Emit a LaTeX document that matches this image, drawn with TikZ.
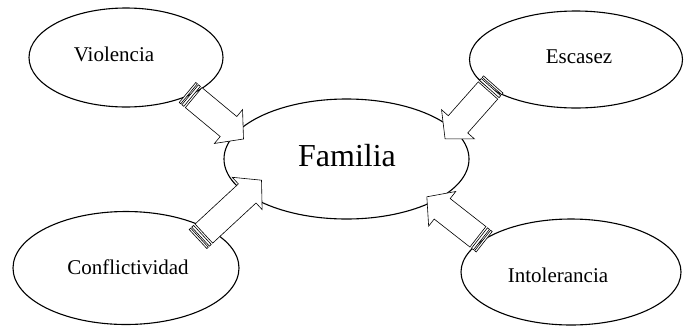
\documentclass[tikz,border=0pt]{standalone}
\usepackage{fontspec}
\setmainfont{Liberation Serif}
\usetikzlibrary{calc,shapes.geometric}
\tikzset{
  bubble/.style={ellipse, draw, line width=1.1pt, inner sep=0pt},
  lbl/.style={anchor=base, font=\fontsize{21}{25}\selectfont, inner sep=0pt},
  biglbl/.style={anchor=base, font=\fontsize{32}{37}\selectfont, inner sep=0pt},
  arrowline/.style={draw=black, fill=white, line width=0.6pt, line join=miter},
}
\newcommand\stripedarrow[2]{%
  \path let \p1=($(#2)-(#1)$), \n1={atan2(\y1,\x1)}, \n2={veclen(\x1,\y1)} in
    \pgfextra{\pgfmathsetmacro\sang{\n1}\global\let\sang\sang
              \pgfmathsetmacro\slen{\n2}\global\let\slen\slen};
  \begin{scope}[shift={(#1)}, rotate=\sang, x=1pt, y=1pt]
    \filldraw[arrowline] (0,-13) rectangle (2,13);
    \filldraw[arrowline] (3.5,-13) rectangle (6,13);
    \filldraw[arrowline] (8,-13) -- ({\slen-19.5},-13) -- ({\slen-19.5},-22)
      -- (\slen,0) -- ({\slen-19.5},22) -- ({\slen-19.5},13) -- (8,13) -- cycle;
  \end{scope}}
\begin{document}
\begin{tikzpicture}[x=1pt,y=-1pt]
\useasboundingbox (0,0) rectangle (684,335);
% ellipses
\node[bubble, minimum width=194pt, minimum height=99pt] (violencia) at (126,57.5) {};
\node[bubble, minimum width=213pt, minimum height=97pt] (escasez) at (576,59.5) {};
\node[bubble, minimum width=245pt, minimum height=120pt] (familia) at (346.5,159) {};
\node[bubble, minimum width=226pt, minimum height=113pt] (conflictividad) at (126,268) {};
\node[bubble, minimum width=220pt, minimum height=106pt] (intolerancia) at (571,272) {};
% arrow end points
\coordinate (t1) at (187.5,92.5);  \coordinate (h1) at (243.5,139);
\coordinate (t2) at (493.3,84.5);  \coordinate (h2) at (445,139);
\coordinate (t3) at (198,239);     \coordinate (h3) at (261.7,180);
\coordinate (t4) at (484.2,241.7); \coordinate (h4) at (426.7,196.7);
\stripedarrow{t1}{h1}
\stripedarrow{t2}{h2}
\stripedarrow{t3}{h3}
\stripedarrow{t4}{h4}
% labels
\node[lbl] (lviolencia) at (114,61) {Violencia};
\node[lbl] (lescasez) at (579,63) {Escasez};
\node[biglbl] (lfamilia) at (347,166) {Familia};
\node[lbl] (lconflictividad) at (128,274) {Conflictividad};
\node[lbl] (lintolerancia) at (558,282) {Intolerancia};
\end{tikzpicture}
\end{document}
